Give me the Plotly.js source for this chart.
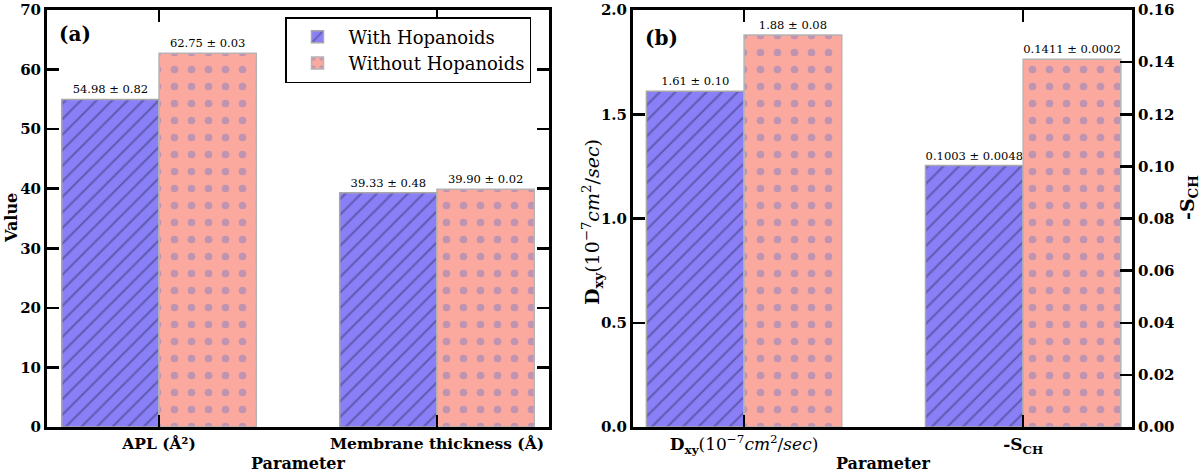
<!DOCTYPE html>
<html>
<head>
<meta charset="utf-8">
<script src="https://cdn.plot.ly/plotly-3.0.1.min.js"></script>
<style>html,body{margin:0;padding:0;background:#fff;}#chart{width:1200px;height:474px;}</style>
</head>
<body>
<div id="chart"></div>
<script>
// ---- data ----
const seriesNames = ["With Hopanoids", "Without Hopanoids"];
const categoriesA = ["APL (Å²)", "Membrane thickness (Å)"];
const withA = [54.98, 39.33];
const withAErr = [0.82, 0.48];
const withoutA = [62.75, 39.90];
const withoutAErr = [0.03, 0.02];

const categoriesB = ["<b>D<sub>xy</sub></b>(10<sup>−7</sup><i>cm</i><sup>2</sup>/<i>sec</i>)", "<b>-S<sub>CH</sub></b>"];
const dxyValues = [1.61, 1.88];      // with, without
const dxyErr = [0.10, 0.08];
const schValues = [0.1003, 0.1411];  // with, without
const schErr = [0.0048, 0.0002];

const ticksA = [0, 10, 20, 30, 40, 50, 60, 70];
const ticksB = [0.0, 0.5, 1.0, 1.5, 2.0];
const ticksBRight = [0.00, 0.02, 0.04, 0.06, 0.08, 0.10, 0.12, 0.14, 0.16];

// ---- styles ----
const FONT = "DejaVu Serif";
const W = 0.35;
const withStyle = {
  color: "#8a7ff7",
  line: {color: "#a8a8a8", width: 1.5},
  pattern: {shape: "/", fillmode: "overlay", fgcolor: "#38386e", size: 11, solidity: 0.2}
};
const withoutStyle = {
  color: "#fba99f",
  line: {color: "#b4b4b4", width: 1.5},
  pattern: {shape: ".", fillmode: "overlay", fgcolor: "#8480c2", size: 17, solidity: 0.16}
};
const fmt = (v, e, d) => v.toFixed(d) + " ± " + e.toFixed(d);

function bar(name, x, y, text, style, offset, xa, ya, showlegend) {
  return {
    type: "bar", name: name, x: x, y: y, width: W, offset: offset,
    marker: style, text: text, textposition: "outside", constraintext: "none",
    cliponaxis: false,
    outsidetextfont: {family: FONT, size: 11.5, color: "#000"},
    xaxis: xa, yaxis: ya, showlegend: showlegend, hoverinfo: "skip"
  };
}

const idxA = categoriesA.map((_, i) => i);
const traces = [
  bar(seriesNames[0], idxA, withA, withA.map((v, i) => fmt(v, withAErr[i], 2)), withStyle, -W, "x", "y", true),
  bar(seriesNames[1], idxA, withoutA, withoutA.map((v, i) => fmt(v, withoutAErr[i], 2)), withoutStyle, 0, "x", "y", true),
  bar(seriesNames[0], [0], [dxyValues[0]], [fmt(dxyValues[0], dxyErr[0], 2)], withStyle, -W, "x2", "y2", false),
  bar(seriesNames[1], [0], [dxyValues[1]], [fmt(dxyValues[1], dxyErr[1], 2)], withoutStyle, 0, "x2", "y2", false),
  bar(seriesNames[0], [1], [schValues[0]], [fmt(schValues[0], schErr[0], 4)], withStyle, -W, "x2", "y3", false),
  bar(seriesNames[1], [1], [schValues[1]], [fmt(schValues[1], schErr[1], 4)], withoutStyle, 0, "x2", "y3", false)
];

const tickFontBold = {family: FONT, size: 15, color: "#000", weight: "bold"};
const axBase = {
  showline: true, linecolor: "#000", linewidth: 3, showgrid: false, zeroline: false,
  ticks: "inside", ticklen: 12, tickwidth: 2.5, tickcolor: "#000", fixedrange: true,
  ticklabeloverflow: "allow"
};
const yDom = [1 - 427 / 474, 1 - 10 / 474];

const ann = (text, x, y, size, angle) => ({
  text: text, xref: "paper", yref: "paper", x: x / 1200, y: 1 - y / 474,
  xanchor: "center", yanchor: "middle", textangle: angle || 0, showarrow: false,
  font: {family: FONT, size: size, color: "#000"}
});

const layout = {
  width: 1200, height: 474,
  margin: {l: 0, r: 0, t: 0, b: 0},
  paper_bgcolor: "#fff", plot_bgcolor: "#fff",
  barmode: "overlay",
  font: {family: FONT, color: "#000"},
  xaxis: Object.assign({}, axBase, {
    domain: [47 / 1200, 549 / 1200], range: [-0.403, 1.403], mirror: "ticks",
    tickmode: "array", tickvals: idxA, ticktext: categoriesA, tickfont: {family: FONT, size: 15.5, color: "#000", weight: "bold"}, anchor: "y"
  }),
  yaxis: Object.assign({}, axBase, {
    domain: yDom, range: [0, 70], mirror: "ticks",
    tickmode: "array", tickvals: ticksA, ticktext: ticksA.map(String), tickfont: tickFontBold, anchor: "x"
  }),
  xaxis2: Object.assign({}, axBase, {
    domain: [633 / 1200, 1132 / 1200], range: [-0.398, 1.39], mirror: "ticks",
    tickmode: "array", tickvals: [0, 1], ticktext: categoriesB,
    tickfont: {family: FONT, size: 17, color: "#000"}, anchor: "y2"
  }),
  yaxis2: Object.assign({}, axBase, {
    domain: yDom, range: [0, 2], mirror: true,
    tickmode: "array", tickvals: ticksB, ticktext: ticksB.map(v => v.toFixed(1)), tickfont: tickFontBold, anchor: "x2"
  }),
  yaxis3: Object.assign({}, axBase, {
    range: [0, 0.16], overlaying: "y2", side: "right", anchor: "x2",
    tickmode: "array", tickvals: ticksBRight, ticktext: ticksBRight.map(v => v.toFixed(2)), tickfont: tickFontBold
  }),
  legend: {
    x: 285 / 1200, y: 1 - 17 / 474, xanchor: "left", yanchor: "top",
    bgcolor: "#fff", bordercolor: "#000", borderwidth: 1.5,
    font: {family: FONT, size: 18, color: "#000"}, traceorder: "normal",
    itemwidth: 52
  },
  annotations: [
    ann("<b>(a)</b>", 75, 34, 20),
    ann("<b>(b)</b>", 661, 38, 20),
    ann("<b>Value</b>", 12, 218, 16, -90),
    ann("<b>Parameter</b>", 298, 463, 16),
    ann("<b>Parameter</b>", 883, 463, 16),
    ann("<b>D<sub>xy</sub></b>(10<sup>−7</sup><i>cm</i><sup>2</sup>/<i>sec</i>)", 592, 222, 19, -90),
    ann("<b>-S<sub>CH</sub></b>", 1188, 198, 19, -90)
  ]
};

Plotly.newPlot("chart", traces, layout, {staticPlot: true, displayModeBar: false});
</script>
</body>
</html>
